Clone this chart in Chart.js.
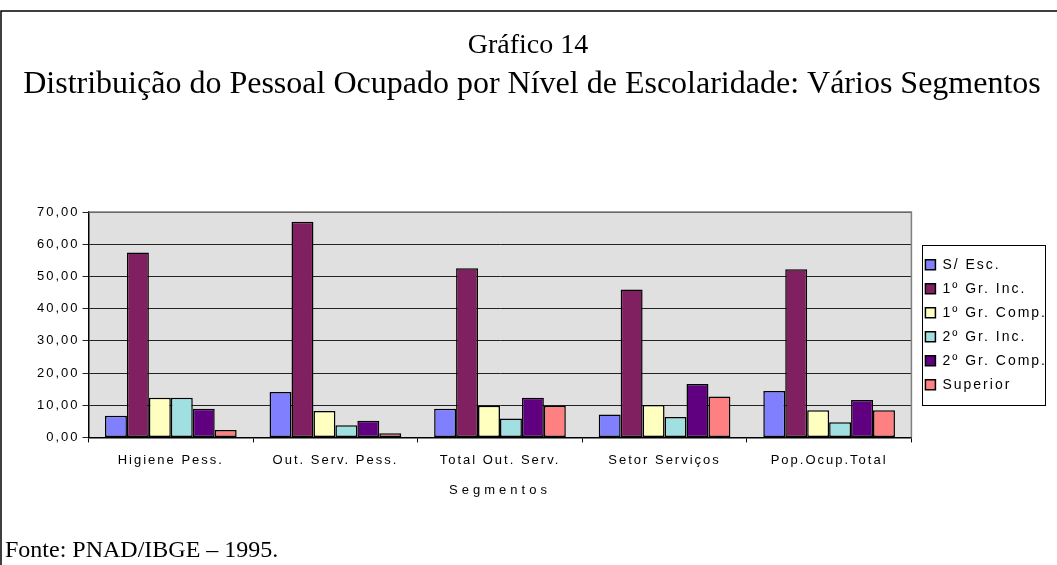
<!DOCTYPE html>
<html>
<head>
<meta charset="utf-8">
<script src="https://cdn.jsdelivr.net/npm/chart.js@4.4.1/dist/chart.umd.min.js"></script>
<style>
  body { margin: 0; background: #fff; }
</style>
</head>
<body>
<canvas id="myChart" width="1057" height="565"></canvas>
<script>
// data
var segmentos = ['Higiene Pess.', 'Out. Serv. Pess.', 'Total Out. Serv.', 'Setor Serviços', 'Pop.Ocup.Total'];
var semEsc   = [6.7, 14.1, 8.9, 7.1, 14.4];
var gr1Inc   = [57.4, 67.0, 52.5, 45.9, 52.2];
var gr1Comp  = [12.3, 8.2, 9.8, 10.1, 8.4];
var gr2Inc   = [12.3, 3.8, 5.9, 6.3, 4.7];
var gr2Comp  = [8.9, 5.2, 12.3, 16.6, 11.6];
var superior = [2.3, 1.3, 9.8, 12.7, 8.4];

var titulo1 = 'Gráfico 14';
var titulo2 = 'Distribuição do Pessoal Ocupado por Nível de Escolaridade: Vários Segmentos';
var eixoX = 'Segmentos';
var fonte = 'Fonte: PNAD/IBGE – 1995.';

var sans = '"Liberation Sans", Arial, sans-serif';
var serif = '"Liberation Serif", "Times New Roman", serif';

function serie(label, color, values) {
  return {
    label: label,
    data: values,
    backgroundColor: color,
    borderColor: '#000',
    borderWidth: 1.5,
    borderSkipped: false,
    categoryPercentage: 0.8,
    barPercentage: 1.0
  };
}

// extra drawing: background, frame, titles, footer
var extras = {
  id: 'extras',
  beforeUpdate: function(chart) { chart.ctx.letterSpacing = '2px'; },
  beforeLayout: function(chart) { chart.ctx.letterSpacing = '2px'; },
  afterLayout: function(chart) {
    // put the legend next to the plot, centred on the plot height
    var lg = chart.legend, a = chart.chartArea;
    var dx = 4;
    var dy = (a.top + a.bottom) / 2 - (lg.top + lg.bottom) / 2;
    lg.left += dx; lg.right += dx;
    lg.top += dy; lg.bottom += dy;
  },
  beforeDraw: function(chart) {
    var ctx = chart.ctx, a = chart.chartArea;
    ctx.letterSpacing = '2px';
    ctx.save();
    ctx.fillStyle = '#e0e0e0';
    ctx.fillRect(a.left, a.top, a.right - a.left, a.bottom - a.top);
    ctx.restore();
  },
  afterDraw: function(chart) {
    var ctx = chart.ctx, a = chart.chartArea;
    ctx.save();
    // plot border top/right
    ctx.strokeStyle = '#808080';
    ctx.lineWidth = 1.5;
    ctx.beginPath();
    ctx.moveTo(a.left, a.top);
    ctx.lineTo(a.right, a.top);
    ctx.lineTo(a.right, a.bottom);
    ctx.stroke();

    // legend frame
    var mid = (a.top + a.bottom) / 2;
    var top = Math.round(mid - 80);
    var bottom = Math.round(mid + 80);
    var left = Math.round(chart.legend.left + 7);
    ctx.strokeStyle = '#000';
    ctx.lineWidth = 1;
    ctx.strokeRect(left + 0.5, top + 0.5, 1045 - left, bottom - top);

    // outer frame
    ctx.lineWidth = 1.5;
    ctx.beginPath();
    ctx.moveTo(1, 565);
    ctx.lineTo(1, 11);
    ctx.lineTo(1057, 11);
    ctx.stroke();

    ctx.fillStyle = '#000';
    ctx.letterSpacing = '0px';
    ctx.textAlign = 'center';
    ctx.textBaseline = 'middle';
    ctx.font = '28px ' + serif;
    ctx.fillText(titulo1, 528, 46);
    ctx.font = '32px ' + serif;
    ctx.fillText(titulo2, 532, 85);

    ctx.letterSpacing = '4px';
    ctx.font = '13px ' + sans;
    ctx.fillText(eixoX, 500, 490);

    ctx.letterSpacing = '0px';
    ctx.textAlign = 'left';
    ctx.textBaseline = 'alphabetic';
    ctx.font = '24px ' + serif;
    ctx.fillText(fonte, 5, 557);
    ctx.restore();
  }
};

const data = {
  labels: segmentos,
  datasets: [
    serie('S/ Esc.', '#8080ff', semEsc),
    serie('1º Gr. Inc.', '#802060', gr1Inc),
    serie('1º Gr. Comp.', '#ffffc0', gr1Comp),
    serie('2º Gr. Inc.', '#a0e0e0', gr2Inc),
    serie('2º Gr. Comp.', '#600080', gr2Comp),
    serie('Superior', '#ff8080', superior)
  ]
};

const config = {
  type: 'bar',
  data: data,
  plugins: [extras],
  options: {
    responsive: false,
    animation: false,
    devicePixelRatio: 1,
    layout: { padding: { top: 212, left: 34, right: 4, bottom: 87 } },
    plugins: {
      title: { display: false },
      tooltip: { enabled: false },
      legend: {
        position: 'right',
        labels: {
          boxWidth: 10,
          boxHeight: 10,
          padding: 10,
          color: '#000',
          font: { family: sans, size: 14 }
        }
      }
    },
    scales: {
      x: {
        grid: { drawOnChartArea: false, drawTicks: true, tickLength: 5, color: '#000' },
        border: { color: '#000', width: 1.5 },
        ticks: { color: '#000', padding: 10, font: { family: sans, size: 13 }, maxRotation: 0 }
      },
      y: {
        min: 0,
        max: 70,
        grid: { color: '#222', lineWidth: 1, tickLength: 6 },
        border: { color: '#000', width: 1.5 },
        ticks: {
          stepSize: 10,
          color: '#000',
          padding: 3,
          font: { family: sans, size: 13 },
          callback: function(v) { return v.toFixed(2).replace('.', ','); }
        }
      }
    }
  }
};

var myChart = new Chart(document.getElementById('myChart'), config);
</script>
</body>
</html>
